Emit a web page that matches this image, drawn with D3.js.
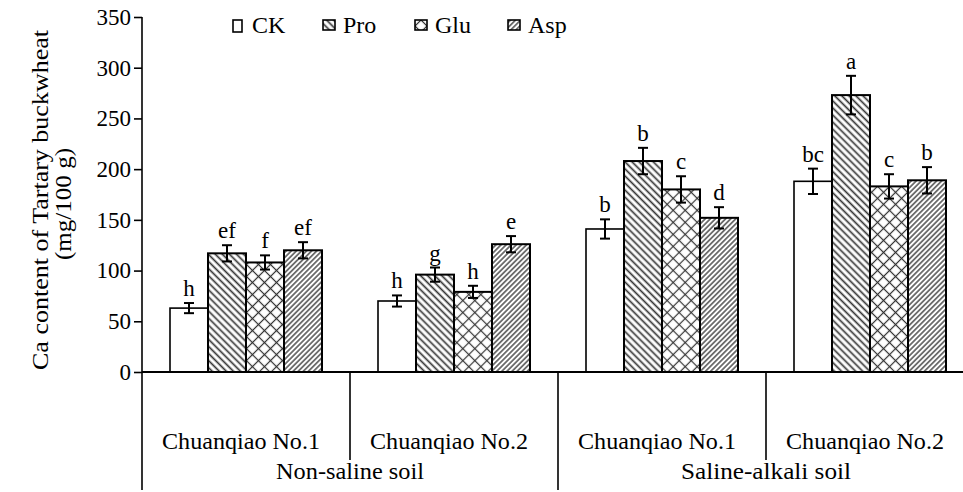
<!DOCTYPE html>
<html><head><meta charset="utf-8">
<script src="https://cdn.jsdelivr.net/npm/d3@7"></script>
<style>body{margin:0;background:#fff}svg{display:block}svg text{font-family:"Liberation Serif","Times New Roman",serif !important;fill:#000}</style>
</head><body><svg id="c" width="963" height="492" font-family="Liberation Serif"></svg>
<script>
const groups = ["Non-saline soil|Chuanqiao No.1","Non-saline soil|Chuanqiao No.2","Saline-alkali soil|Chuanqiao No.1","Saline-alkali soil|Chuanqiao No.2"];
const varieties = ["Chuanqiao No.1","Chuanqiao No.2","Chuanqiao No.1","Chuanqiao No.2"];
const soils = ["Non-saline soil","Saline-alkali soil"];
const series = ["CK","Pro","Glu","Asp"];
const CK  = [63, 70, 141, 188];
const Pro = [117, 96, 208, 273];
const Glu = [108, 79, 180, 183];
const Asp = [120, 126, 152, 189];
const CKerr  = [5, 5.5, 9.5, 12.5];
const ProErr = [8, 7, 13, 19];
const GluErr = [7, 6, 13, 12];
const AspErr = [8, 8, 10.5, 13];
const CKsig  = ["h","h","b","bc"];
const ProSig = ["ef","g","b","a"];
const GluSig = ["f","h","c","c"];
const AspSig = ["ef","e","d","b"];
const yTicks = [0,50,100,150,200,250,300,350];

const vals = [CK,Pro,Glu,Asp], errs=[CKerr,ProErr,GluErr,AspErr], sigs=[CKsig,ProSig,GluSig,AspSig];
const fills = ["#fff","url(#pPro)","url(#pGlu)","url(#pAsp)"];
const FONT = "Liberation Serif";

const svg = d3.select("#c");
const defs = svg.append("defs");
function hatch(id, size, angle, sw, cross){
  const p = defs.append("pattern").attr("id",id).attr("patternUnits","userSpaceOnUse")
    .attr("width",size).attr("height",size).attr("patternTransform",`rotate(${angle})`);
  p.append("rect").attr("width",size).attr("height",size).attr("fill","#fff");
  p.append("line").attr("x1",0).attr("x2",size).attr("y1",size/2).attr("y2",size/2).attr("stroke","#333").attr("stroke-width",sw);
  if(cross) p.append("line").attr("y1",0).attr("y2",size).attr("x1",size/2).attr("x2",size/2).attr("stroke","#333").attr("stroke-width",sw);
}
hatch("pPro",5,45,1.7,false);
hatch("pAsp",3.6,-45,1.3,false);
hatch("pGlu",8.5,45,1.2,true);

const y = d3.scaleLinear().domain([0,350]).range([372,17]);
const x0 = d3.scaleBand().domain(groups).range([142,974]);
const x1 = d3.scaleBand().domain(series).range([28,180]);

// y axis
const ya = svg.append("g").attr("transform","translate(142,0)")
  .call(d3.axisLeft(y).tickValues(yTicks).tickSize(8).tickPadding(3));
ya.attr("font-family",FONT).attr("font-size",null);
ya.select(".domain").remove();
ya.selectAll(".tick line").attr("stroke","#000").attr("stroke-width",1.6);
ya.selectAll(".tick text").attr("font-family",FONT).style("font-size","23px");
svg.append("line").attr("x1",142).attr("x2",142).attr("y1",y(350)).attr("y2",490).attr("stroke","#000").attr("stroke-width",1.6);

// bars
series.forEach((s,i)=>{
  const g = svg.append("g");
  groups.forEach((gr,j)=>{
    const bx = x0(gr)+x1(s), bw = x1.bandwidth(), v = vals[i][j];
    g.append("rect").attr("x",bx).attr("y",y(v)).attr("width",bw).attr("height",y(0)-y(v))
      .attr("fill",fills[i]).attr("stroke","#000").attr("stroke-width", i===0?1.6:2);
    const cx = bx+bw/2, e = errs[i][j];
    g.append("line").attr("x1",cx).attr("x2",cx).attr("y1",y(v+e)).attr("y2",y(v-e)).attr("stroke","#000").attr("stroke-width",2);
    [v+e,v-e].forEach(t=>g.append("line").attr("x1",cx-5).attr("x2",cx+5).attr("y1",y(t)).attr("y2",y(t)).attr("stroke","#000").attr("stroke-width",2));
    g.append("text").attr("x",cx).attr("y",y(v+e)-7).attr("text-anchor","middle").style("font-size","23px").text(sigs[i][j]);
  });
});

// x axis
svg.append("line").attr("x1",142).attr("x2",963).attr("y1",372).attr("y2",372).attr("stroke","#000").attr("stroke-width",2);
groups.forEach((gr,j)=>{
  const gx = x0(gr);
  const long = j%2===0;
  if(j>0) svg.append("line").attr("x1",gx).attr("x2",gx).attr("y1",372).attr("y2",long?490:460).attr("stroke","#000").attr("stroke-width",1.6);
  svg.append("text").attr("x",gx+x0.bandwidth()/2-5).attr("y",449).attr("text-anchor","middle")
    .attr("textLength",158).attr("lengthAdjust","spacingAndGlyphs").style("font-size","23px").text(varieties[j]);
});
const soilLen = [148,170];
soils.forEach((s,k)=>{
  const gx = x0(groups[k*2]) + x0.bandwidth();
  svg.append("text").attr("x",gx).attr("y",479).attr("text-anchor","middle")
    .attr("textLength",soilLen[k]).attr("lengthAdjust","spacingAndGlyphs").style("font-size","23px").text(s);
});

// y title
const yt = svg.append("text").attr("transform","translate(48,200) rotate(-90)").attr("text-anchor","middle").style("font-size","23px");
yt.append("tspan").attr("x",0).attr("dy",0).attr("textLength",340).attr("lengthAdjust","spacingAndGlyphs").text("Ca content of Tartary buckwheat");
yt.append("tspan").attr("x",-4).attr("dy",23).attr("textLength",112).attr("lengthAdjust","spacingAndGlyphs").text("(mg/100 g)");

// legend
const legX = [233,323,415,508];
series.forEach((s,i)=>{
  const g = svg.append("g").attr("transform",`translate(${legX[i]},20)`);
  g.append("rect").attr("x",0).attr("y",0).attr("width",i===0?9:12).attr("height",i===0?12:10)
    .attr("fill",fills[i]).attr("stroke","#000").attr("stroke-width",1.6);
  g.append("text").attr("x",i===0?19:20).attr("y",13).style("font-size","24px").text(s);
});
</script></body></html>
